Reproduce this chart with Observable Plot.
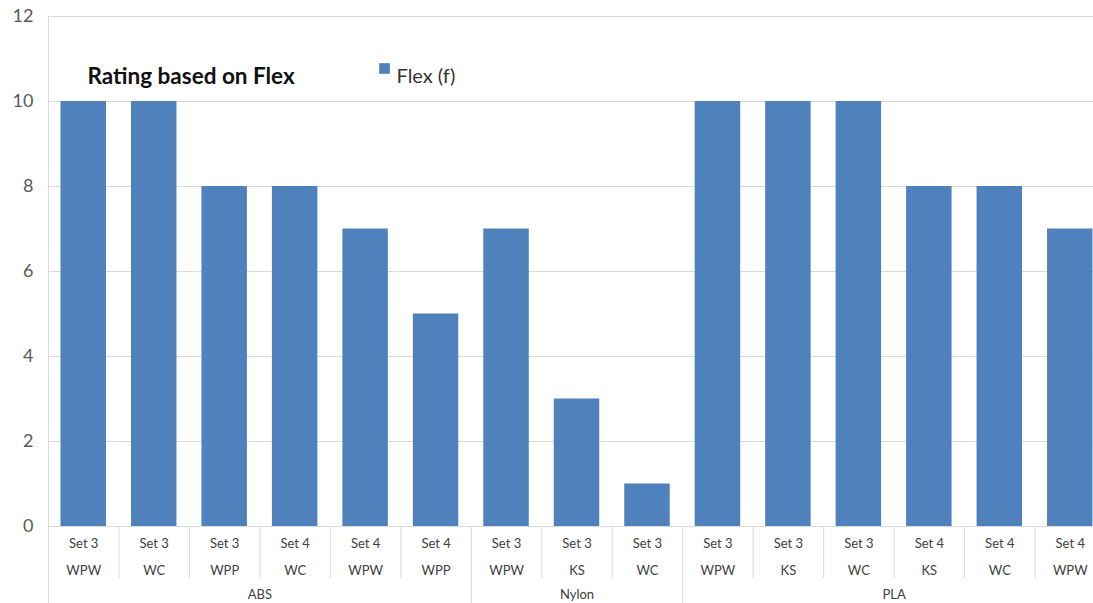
<!DOCTYPE html>
<html>
<head>
<meta charset="utf-8">
<script src="https://cdn.jsdelivr.net/npm/d3@7"></script>
<script src="https://cdn.jsdelivr.net/npm/@observablehq/plot@0.6"></script>
<style>
  html, body { margin: 0; padding: 0; background: #fff; overflow: hidden; }
  #chart svg { overflow: hidden; }
</style>
</head>
<body>
<div id="chart"></div>
<script>
const groups = ["ABS", "Nylon", "PLA"];
const groupSizes = [6, 3, 6];
const sets = ["Set 3","Set 3","Set 3","Set 4","Set 4","Set 4","Set 3","Set 3","Set 3","Set 3","Set 3","Set 3","Set 4","Set 4","Set 4"];
const subs = ["WPW","WC","WPP","WC","WPW","WPP","WPW","KS","WC","WPW","KS","WC","KS","WC","WPW"];
const flex = [10,10,8,8,7,5,7,3,1,10,10,10,8,8,7];
const seriesName = "Flex (f)";
const chartTitle = "Rating based on Flex";
const yTicks = [0,2,4,6,8,10,12];

const rows = flex.map((v, i) => ({i, set: sets[i], sub: subs[i], value: v}));
const groupStarts = [];
let acc = 0;
groupSizes.forEach(s => { groupStarts.push(acc); acc += s; });
groupStarts.push(acc);
const groupRows = groups.map((g, k) => ({g, mid: groupStarts[k] + groupSizes[k] / 2}));
const catBounds = d3.range(0, flex.length + 1).filter(b => !groupStarts.includes(b));

const color = "#4F81BD";
const grid = "#d9d9d9";
const font = "Lato, 'Open Sans', sans-serif";

const chart = Plot.plot({
  width: 1093,
  height: 603,
  marginTop: 16,
  marginBottom: 77,
  marginLeft: 48,
  marginRight: 0,
  style: {fontFamily: font, background: "#fff"},
  x: {type: "linear", domain: [0, flex.length], range: [48, 1105], axis: null},
  y: {domain: [0, 12], range: [526, 16], axis: null},
  marks: [
    Plot.ruleY(yTicks, {stroke: grid, strokeWidth: 1}),
    Plot.rectY(rows, {x1: d => d.i, x2: d => d.i + 1, y: "value", fill: color, insetLeft: 12.5, insetRight: 12.5}),
    Plot.ruleX([0], {y1: 12, y2: 0, stroke: grid}),
    Plot.ruleX(catBounds, {y1: 0, y2: 0, insetBottom: -52, stroke: grid}),
    Plot.ruleX(groupStarts, {y1: 0, y2: 0, insetBottom: -77, stroke: grid}),
    Plot.text(yTicks, {x: 0, y: d => d, text: d => String(d), textAnchor: "end", dx: -15, fontSize: 18, fill: "#595959"}),
    Plot.text(rows, {x: d => d.i + 0.5, y: 0, text: "set", dy: 17, fontSize: 13, fill: "#404040"}),
    Plot.text(rows, {x: d => d.i + 0.5, y: 0, text: "sub", dy: 44, fontSize: 13, fill: "#404040"}),
    Plot.text(groupRows, {x: "mid", y: 0, text: "g", dy: 68, fontSize: 13, fill: "#404040"}),
    Plot.text([chartTitle], {frameAnchor: "top-left", dx: 39, dy: 52, textAnchor: "start", fontWeight: "bold", fontSize: 22.5, fill: "#111"}),
    Plot.dot([seriesName], {frameAnchor: "top-left", dx: 336, dy: 52, symbol: "square", r: 6, fill: color}),
    Plot.text([seriesName], {frameAnchor: "top-left", dx: 348, dy: 52, textAnchor: "start", fontSize: 20, fill: "#333"})
  ]
});
document.getElementById("chart").appendChild(chart);
</script>
</body>
</html>
